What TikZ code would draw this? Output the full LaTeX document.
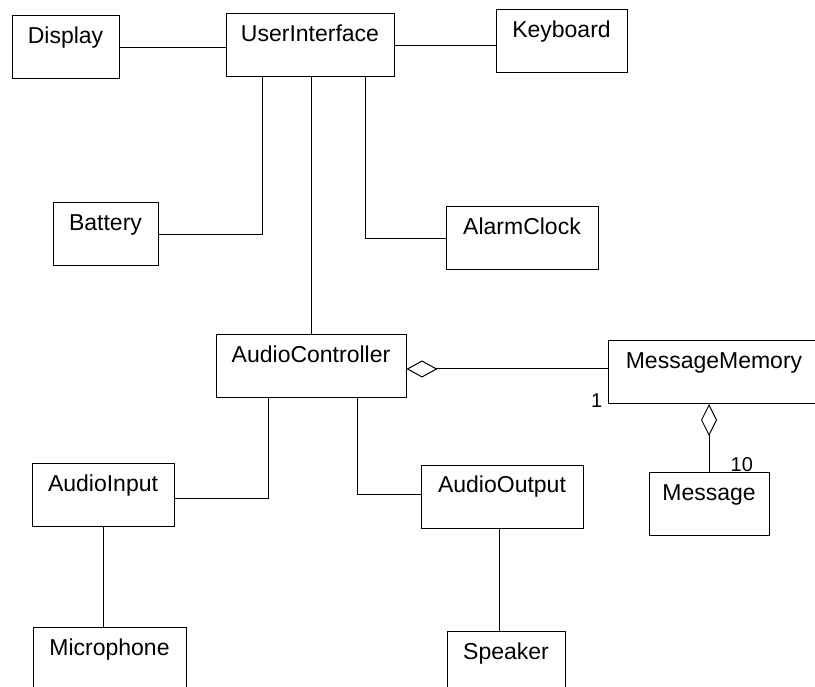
\documentclass[tikz,border=0pt]{standalone}
\usepackage{fontspec}
\setmainfont{Liberation Sans}
\usetikzlibrary{arrows.meta}
\begin{document}
\begin{tikzpicture}[x=1pt,y=-1pt,
  cls/.style={draw,line width=1pt,rectangle,inner sep=0pt,text height=28pt,text depth=35pt,font=\fontsize{23}{27}\selectfont},
  conn/.style={line width=1pt},
  aggh/.style={{Diamond[open,length=31pt,width=17pt]}-},
  aggv/.style={{Diamond[open,length=32pt,width=16pt]}-},
  lbl/.style={font=\fontsize{20}{24}\selectfont,inner sep=0pt}]
\useasboundingbox (0,0) rectangle (815,687);
\clip (0,0) rectangle (815,687);
% classes
\node[cls,minimum width=107pt] (Display) at (65.5,47.5) {Display};
\node[cls,minimum width=168pt] (UI) at (310,45.5) {UserInterface};
\node[cls,minimum width=131pt] (Keyboard) at (561.5,41.5) {Keyboard};
\node[cls,minimum width=105pt] (Battery) at (105.5,234.5) {Battery};
\node[cls,minimum width=152pt] (Alarm) at (522,238.5) {AlarmClock};
\node[cls,minimum width=190pt] (AC) at (311,366) {AudioController};
\node[cls,minimum width=212pt] (MM) at (714,372) {MessageMemory};
\node[cls,minimum width=120pt] (Msg) at (709,503.5) {Message};
\node[cls,minimum width=142pt] (AIn) at (103,495) {AudioInput};
\node[cls,minimum width=162pt] (AOut) at (502,496.5) {AudioOutput};
\node[cls,minimum width=153pt] (Mic) at (109.5,658.5) {Microphone};
\node[cls,minimum width=118pt] (Spk) at (506,662.5) {Speaker};
% connectors
\draw[conn] (Display.east) -- (Display.east -| UI.west);
\draw[conn] (UI.east) -- (UI.east -| Keyboard.west);
\draw[conn] (Battery.east) -| ([xshift=37pt]UI.south west);
\draw[conn] ([xshift=140pt]UI.south west) |- (Alarm.west);
\draw[conn] ([xshift=1pt]UI.south) -- (AC.north);
\draw[conn,aggh] ([yshift=-3pt]AC.east) -- ([yshift=-3pt]AC.east -| MM.west);
\draw[conn,aggv] (Msg.north |- MM.south) -- (Msg.north);
\draw[conn] ([xshift=53pt]AC.south west) |- ([yshift=-3pt]AIn.east);
\draw[conn] ([xshift=142pt]AC.south west) |- ([yshift=2pt]AOut.west);
\draw[conn] (AIn.south) -- (AIn.south |- Mic.north);
\draw[conn] ([xshift=-3pt]AOut.south) -- ([xshift=-3pt]AOut.south |- Spk.north);
% multiplicities
\node[lbl,anchor=base east] (one) at ([xshift=-5pt,yshift=-3pt]MM.south west) {1};
\node[lbl,anchor=base west] (ten) at ([xshift=82pt]Msg.north west) {10};
\end{tikzpicture}
\end{document}
